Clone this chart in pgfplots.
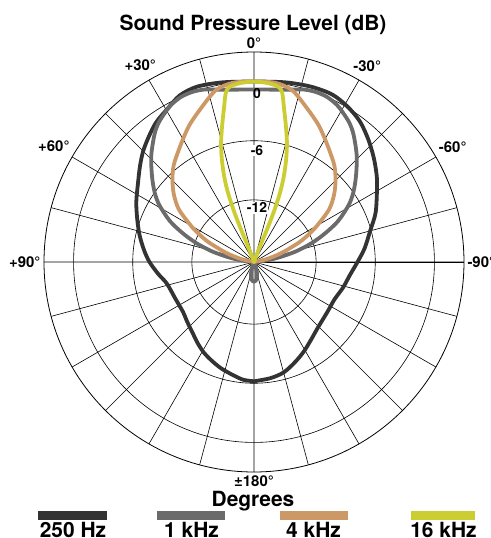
\documentclass[border=0pt]{standalone}
\usepackage{fontspec}
\setmainfont{TeX Gyre Heros}
\usepackage{pgfplots}
\usepackage{pgfplotstable}
\pgfplotsset{compat=1.18}
\usepgfplotslibrary{polar}
\definecolor{c250}{RGB}{51,51,51}
\definecolor{c1k}{RGB}{107,107,107}
\definecolor{c4k}{RGB}{204,153,102}
\definecolor{c16k}{RGB}{204,204,51}

% phi = angle from front (deg, + to the left), db = level
\pgfplotstableread{
phi db
-180 -6.2
-172 -6.4
-165 -6.7
-158 -7.3
-151 -7.9
-144 -8.5
-136 -9.0
-124 -9.3
-115 -9.3
-106 -8.9
-98 -8.5
-90 -7.8
-83 -7.0
-75 -6.1
-68 -5.0
-60 -3.9
-55 -3.1
-49 -2.2
-43 -1.3
-37 -0.45
-31 0.1
-25 0.45
-18 0.4
-10 0.2
0 0
10 0.2
18 0.4
24 0.2
29 -0.4
35 -1.0
40 -1.7
45 -2.4
50 -3.2
56 -4.1
63 -4.9
70 -5.7
77 -6.4
84 -7.1
90 -7.7
97 -8.5
104 -9.2
115 -9.5
125 -9.5
132 -9.2
139 -8.8
145 -8.3
151 -7.8
157 -7.4
163 -7.0
170 -6.6
175 -6.3
180 -6.2
}\tblack

\pgfplotstableread{
phi db
-88 -18.3
-84 -17.4
-80 -15.9
-76 -14.0
-72 -12.2
-68 -10.5
-64 -8.8
-59 -7.1
-55 -6.0
-50 -4.8
-44 -3.3
-38 -1.9
-34.5 -1.2
-31 -0.7
-28 -0.3
-24 0.0
-20 0.05
-16 -0.1
-11 -0.5
-6 -0.72
0 -0.8
6 -0.72
11 -0.5
16 -0.1
20 0.05
24 0.0
28 -0.3
31 -0.7
34.5 -1.2
38 -1.9
44 -3.3
50 -4.8
55 -6.0
59 -7.1
64 -8.8
68 -10.5
72 -12.2
76 -14.0
80 -15.9
84 -17.4
88 -18.3
}\tgrayfront

\pgfplotstableread{
phi db
150 -18.3
160 -17.8
166 -17.0
172 -16.5
180 -16.3
188 -16.5
194 -17.0
200 -17.8
210 -18.3
}\tgrayrear

\pgfplotstableread{
phi db
-82 -18.3
-77 -17.0
-72 -15.4
-66.5 -13.3
-63 -12.0
-60 -10.9
-55 -9.0
-50 -7.7
-45 -6.6
-40 -5.6
-35 -4.8
-30 -3.9
-25 -2.9
-19 -1.8
-12.5 -0.45
-6.7 0
0 0
6.7 0
12.5 -0.45
19 -1.8
25 -2.9
30 -3.9
35 -4.8
40 -5.6
45 -6.6
50 -7.7
55 -9.0
60 -10.9
63 -12.0
66.5 -13.3
72 -15.4
77 -17.0
82 -18.3
}\torange

\pgfplotstableread{
phi db
-20 -18.3
-21 -16.5
-21.8 -14.5
-21.5 -12.7
-20.6 -10.8
-19.2 -9.1
-17.4 -7.4
-15.5 -5.8
-13.3 -4.2
-11.2 -2.55
-9.4 -0.85
-7.8 -0.35
-4.5 -0.1
0 0
4.5 -0.1
7.8 -0.35
9.4 -0.85
11.2 -2.55
13.3 -4.2
15.5 -5.8
17.4 -7.4
19.2 -9.1
20.6 -10.8
21.5 -12.7
21.8 -14.5
21 -16.5
20 -18.3
}\tyellow

\begin{document}
\begin{tikzpicture}
\begin{polaraxis}[
  name=pa, at={(0,0)}, anchor=center,
  scale only axis, width=420bp, height=420bp,
  xmin=0, xmax=360,
  ymin=0, ymax=21.3,
  xtick={0,15,...,345},
  xticklabels={-90°,,-60°,,-30°,,0°,,+30°,,+60°,,+90°,,,,,,±180°,,,,,},
  ytick={6.3,12.3,18.3},
  yticklabels={,,},
  grid=major,
  major grid style={black, line width=0.6bp},
  axis line style={black, line width=0.8bp},
  major tick length=0pt,
  xticklabel style={font=\bfseries\fontsize{15}{15}\selectfont},
  every axis plot/.append style={line width=3.8bp, line join=round, line cap=round},
]
\addplot[c250, smooth, tension=0.5] table[x expr=\thisrow{phi}+90, y expr=\thisrow{db}+18.3] {\tblack};
\addplot[c1k, smooth, tension=0.5] table[x expr=\thisrow{phi}+90, y expr=\thisrow{db}+18.3] {\tgrayfront};
\addplot[c1k, smooth, tension=0.5, forget plot] table[x expr=\thisrow{phi}+90, y expr=\thisrow{db}+18.3] {\tgrayrear};
\addplot[c4k, smooth, tension=0.5] table[x expr=\thisrow{phi}+90, y expr=\thisrow{db}+18.3] {\torange};
\addplot[c16k, smooth, tension=0.5] table[x expr=\thisrow{phi}+90, y expr=\thisrow{db}+18.3] {\tyellow};
\node[font=\bfseries\fontsize{14}{14}\selectfont, inner sep=0.3bp, xshift=3bp, yshift=-12bp] at (axis cs:90,18.3) {0};
\node[font=\bfseries\fontsize{14}{14}\selectfont, fill=white, inner sep=0.6bp, xshift=3bp, yshift=-10bp] at (axis cs:90,12.3) {-6};
\node[font=\bfseries\fontsize{14}{14}\selectfont, fill=white, inner sep=0.6bp, xshift=3bp, yshift=-8bp] at (axis cs:90,6.3) {-12};
\end{polaraxis}
\node[anchor=base, font=\bfseries\fontsize{21}{21}\selectfont] at (-1bp,231bp) {Sound Pressure Level (dB)};
\node[anchor=base, font=\bfseries\fontsize{21}{21}\selectfont] at (-1bp,-244bp) {Degrees};
\fill[c250] (-216bp,-258bp) rectangle (-147bp,-248.7bp);
\fill[c1k] (-97bp,-258bp) rectangle (-29bp,-248.7bp);
\fill[c4k] (26bp,-258bp) rectangle (94bp,-248.7bp);
\fill[c16k] (157bp,-258bp) rectangle (221bp,-248.7bp);
\node[anchor=base, font=\bfseries\fontsize{21}{21}\selectfont] at (-181bp,-275bp) {250 Hz};
\node[anchor=base, font=\bfseries\fontsize{21}{21}\selectfont] at (-62.5bp,-275bp) {1 kHz};
\node[anchor=base, font=\bfseries\fontsize{21}{21}\selectfont] at (59.5bp,-275bp) {4 kHz};
\node[anchor=base, font=\bfseries\fontsize{21}{21}\selectfont] at (189.5bp,-275bp) {16 kHz};
\pgfresetboundingbox
\path[use as bounding box] (-254bp,-276bp) rectangle (237bp,262bp);
\end{tikzpicture}
\end{document}
